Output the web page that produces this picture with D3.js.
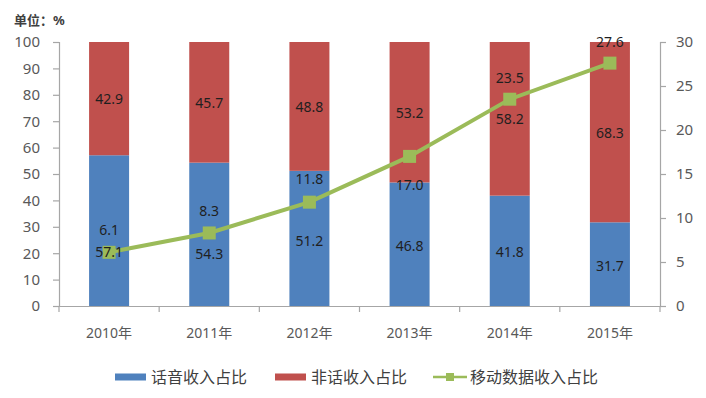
<!DOCTYPE html>
<html>
<head>
<meta charset="utf-8">
<script src="https://cdn.jsdelivr.net/npm/d3@7"></script>
<style>
  body { margin: 0; background: #fff; }
  svg { display: block; font-family: "Noto Sans", "Noto Sans CJK SC", sans-serif; }
</style>
</head>
<body>
<div id="chart"></div>
<script>
// data
const years = ["2010年", "2011年", "2012年", "2013年", "2014年", "2015年"];
const voiceShare = [57.1, 54.3, 51.2, 46.8, 41.8, 31.7];
const nonVoiceShare = [42.9, 45.7, 48.8, 53.2, 58.2, 68.3];
const mobileDataShare = [6.1, 8.3, 11.8, 17.0, 23.5, 27.6];
const leftTicks = [0, 10, 20, 30, 40, 50, 60, 70, 80, 90, 100];
const rightTicks = [0, 5, 10, 15, 20, 25, 30];
const seriesNames = ["话音收入占比", "非话收入占比", "移动数据收入占比"];

// label placement tweaks (the source had hand-moved labels)
const voiceLabelAt = [20.8, 20, 25, 23, 20.5, 15.5];
const dataLabelDy = [-23, -22, -24, 28, -22, -22];

const W = 706, H = 398;
const margin = { top: 42, right: 46, bottom: 92, left: 59 };
const width = W - margin.left - margin.right;
const height = H - margin.top - margin.bottom;

const colors = { voice: "#4f81bd", nonVoice: "#c0504d", data: "#9bbb59" };
const axisColor = "#a6a6a6";
const tickText = "#595959";

const svg = d3.select("#chart").append("svg")
  .attr("width", W)
  .attr("height", H);

const g = svg.append("g")
  .attr("transform", `translate(${margin.left}, ${margin.top})`);

const x = d3.scaleBand().domain(years).range([0, width]);
const yL = d3.scaleLinear().domain([0, 100]).range([height, 0]);
const yR = d3.scaleLinear().domain([0, 30]).range([height, 0]);
const barW = 40;
const cx = d => x(d) + x.bandwidth() / 2;

// unit note
svg.append("text")
  .attr("x", 14).attr("y", 25)
  .style("font-size", "13px").style("font-weight", "bold").style("fill", "#404040")
  .text("单位：%");

// bars
const rows = years.map((yr, i) => ({ yr, voice: voiceShare[i], non: nonVoiceShare[i], data: mobileDataShare[i], i }));

g.selectAll(".voice").data(rows).enter().append("rect")
  .attr("class", "voice")
  .attr("x", d => cx(d.yr) - barW / 2)
  .attr("width", barW)
  .attr("y", d => yL(d.voice))
  .attr("height", d => yL(0) - yL(d.voice))
  .attr("fill", colors.voice);

g.selectAll(".nonvoice").data(rows).enter().append("rect")
  .attr("class", "nonvoice")
  .attr("x", d => cx(d.yr) - barW / 2)
  .attr("width", barW)
  .attr("y", d => yL(d.voice + d.non))
  .attr("height", d => yL(d.voice) - yL(d.voice + d.non))
  .attr("fill", colors.nonVoice);

// axes
const left = g.append("g").call(d3.axisLeft(yL).tickValues(leftTicks).tickSize(6).tickPadding(13));
const right = g.append("g").attr("transform", `translate(${width},0)`)
  .call(d3.axisRight(yR).tickValues(rightTicks).tickSize(6).tickPadding(10));
const bottom = g.append("g").attr("transform", `translate(0,${height})`)
  .call(d3.axisBottom(x).tickSize(0).tickPadding(22));

[left, right, bottom].forEach(a => {
  a.select(".domain").attr("stroke", axisColor).attr("stroke-width", 1.2);
  a.selectAll(".tick line").attr("stroke", axisColor).attr("stroke-width", 1.2);
  a.selectAll("text").style("font-size", "15px").style("fill", tickText).style("font-family", "'Noto Sans', 'Noto Sans CJK SC', sans-serif");
});
bottom.selectAll("text").style("font-size", "14px");

// category boundary ticks on the x axis
g.append("g").selectAll("line")
  .data(d3.range(years.length + 1)).enter().append("line")
  .attr("x1", i => i * x.step()).attr("x2", i => i * x.step())
  .attr("y1", height).attr("y2", height + 6)
  .attr("stroke", axisColor).attr("stroke-width", 1.2);

// line series
const line = d3.line().x(d => cx(d.yr)).y(d => yR(d.data));
g.append("path").datum(rows)
  .attr("fill", "none")
  .attr("stroke", colors.data)
  .attr("stroke-width", 4)
  .attr("d", line);

g.selectAll(".pt").data(rows).enter().append("rect")
  .attr("class", "pt")
  .attr("x", d => cx(d.yr) - 6.5)
  .attr("y", d => yR(d.data) - 6.5)
  .attr("width", 13).attr("height", 13)
  .attr("fill", colors.data);

// data labels
const lbl = (sel) => sel
  .attr("text-anchor", "middle")
  .attr("dominant-baseline", "central")
  .style("font-size", "14px")
  .style("fill", "#1f1f1f");

g.selectAll(".lv").data(rows).enter().append("text")
  .call(lbl)
  .attr("x", d => cx(d.yr))
  .attr("y", d => yL(voiceLabelAt[d.i]))
  .text(d => d.voice.toFixed(1));

g.selectAll(".ln").data(rows).enter().append("text")
  .call(lbl)
  .attr("x", d => cx(d.yr))
  .attr("y", d => yL(d.voice + d.non / 2))
  .text(d => d.non.toFixed(1));

g.selectAll(".ld").data(rows).enter().append("text")
  .call(lbl)
  .attr("x", d => cx(d.yr))
  .attr("y", d => yR(d.data) + dataLabelDy[d.i])
  .text(d => d.data.toFixed(1));

// legend
const legend = svg.append("g").attr("transform", "translate(0,377)");
const items = [
  { x: 115, name: seriesNames[0], type: "bar", color: colors.voice },
  { x: 275, name: seriesNames[1], type: "bar", color: colors.nonVoice },
  { x: 433, name: seriesNames[2], type: "line", color: colors.data }
];
items.forEach(it => {
  if (it.type === "bar") {
    legend.append("rect").attr("x", it.x).attr("y", -3.5).attr("width", 31).attr("height", 7).attr("fill", it.color);
  } else {
    legend.append("line").attr("x1", it.x).attr("x2", it.x + 34).attr("y1", 0).attr("y2", 0)
      .attr("stroke", it.color).attr("stroke-width", 2.5);
    legend.append("rect").attr("x", it.x + 13).attr("y", -4).attr("width", 8).attr("height", 8).attr("fill", it.color);
  }
  legend.append("text")
    .attr("x", it.x + (it.type === "bar" ? 36 : 37))
    .attr("y", 0)
    .attr("dominant-baseline", "central")
    .style("font-size", "16px")
    .style("fill", "#404040")
    .text(it.name);
});
</script>
</body>
</html>
